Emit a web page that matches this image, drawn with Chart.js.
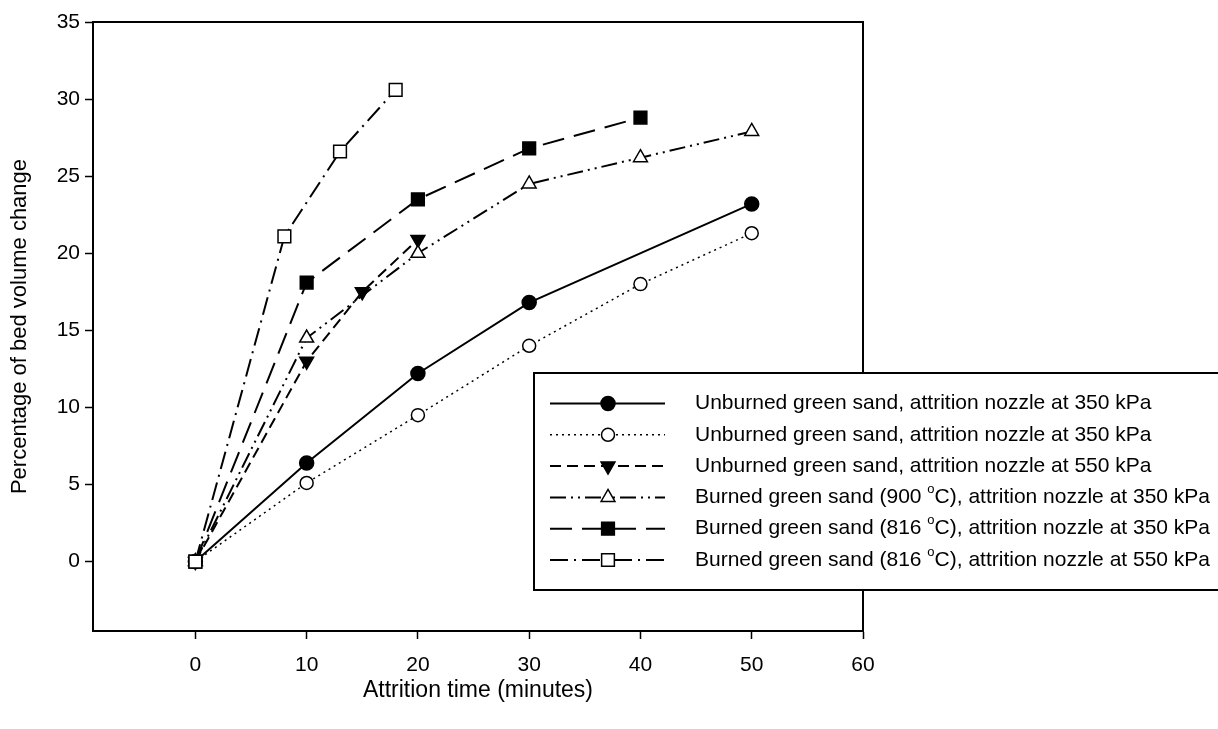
<!DOCTYPE html>
<html>
<head>
<meta charset="utf-8">
<script src="https://cdn.jsdelivr.net/npm/chart.js@4.4.1/dist/chart.umd.min.js"></script>
<style>
  html, body { margin: 0; padding: 0; background: #fff; }
  #wrap { width: 1218px; height: 729px; }
</style>
</head>
<body>
<div id="wrap"><canvas id="bedChart"></canvas></div>
<script>
// values: attrition time (min) vs % bed volume change
const unburned350Time = [0, 10, 20, 30, 50];
const unburned350Pct = [0, 6.4, 12.2, 16.8, 23.2];
const unburned350bTime = [0, 10, 20, 30, 40, 50];
const unburned350bPct = [0, 5.1, 9.5, 14.0, 18.0, 21.3];
const unburned550Time = [0, 10, 15, 20];
const unburned550Pct = [0, 13.0, 17.5, 20.9];
const burned900Time = [0, 10, 20, 30, 40, 50];
const burned900Pct = [0, 14.5, 20.0, 24.5, 26.2, 27.9];
const burned816Time = [0, 10, 20, 30, 40];
const burned816Pct = [0, 18.1, 23.5, 26.8, 28.8];
const burned816hiTime = [0, 8, 13, 18];
const burned816hiPct = [0, 21.1, 26.6, 30.6];

const xTicks = [0, 10, 20, 30, 40, 50, 60];
const yTicks = [0, 5, 10, 15, 20, 25, 30, 35];

const seriesLabels = [
  "Unburned green sand, attrition nozzle at 350 kPa",
  "Unburned green sand, attrition nozzle at 350 kPa",
  "Unburned green sand, attrition nozzle at 550 kPa",
  "Burned green sand (900 °C), attrition nozzle at 350 kPa",
  "Burned green sand (816 °C), attrition nozzle at 350 kPa",
  "Burned green sand (816 °C), attrition nozzle at 550 kPa"
];

const FONT = "'Liberation Sans', Arial, sans-serif";

// line + marker look of each series
const looks = [
  { dash: [], width: 2, shape: "circle", r: 7, fill: "#000" },
  { dash: [2, 4], width: 1.5, shape: "circle", r: 6.5, fill: "#fff" },
  { dash: [11, 6], width: 2, shape: "triangle", rot: 180, r: 8, fill: "#000" },
  { dash: [16, 5, 2, 5, 2, 5], width: 2, shape: "triangle", r: 8, fill: "#fff" },
  { dash: [22, 10], width: 2, shape: "rect", r: 9, fill: "#000" },
  { dash: [18, 6, 2, 6], width: 2, shape: "rect", r: 9, fill: "#fff" }
];

const times = [unburned350Time, unburned350bTime, unburned550Time, burned900Time, burned816Time, burned816hiTime];
const pcts = [unburned350Pct, unburned350bPct, unburned550Pct, burned900Pct, burned816Pct, burned816hiPct];

const datasets = times.map((t, i) => ({
  label: seriesLabels[i],
  data: t.map((x, j) => ({ x: x, y: pcts[i][j] })),
  borderColor: "#000",
  borderWidth: looks[i].width,
  borderDash: looks[i].dash,
  pointStyle: looks[i].shape,
  rotation: looks[i].rot || 0,
  pointRadius: looks[i].r,
  pointBackgroundColor: looks[i].fill,
  pointBorderColor: "#000",
  pointBorderWidth: 1.5,
  tension: 0,
  fill: false,
  order: 6 - i
}));

function drawMarker(ctx, look, x, y) {
  ctx.save();
  ctx.setLineDash([]);
  ctx.lineWidth = 1.5;
  ctx.strokeStyle = "#000";
  ctx.fillStyle = look.fill;
  ctx.beginPath();
  const r = look.r;
  if (look.shape === "circle") {
    ctx.arc(x, y, r, 0, Math.PI * 2);
  } else if (look.shape === "rect") {
    const s = r * Math.SQRT1_2;
    ctx.rect(x - s, y - s, 2 * s, 2 * s);
  } else {
    const dir = look.rot ? -1 : 1;
    ctx.moveTo(x, y - dir * r);
    ctx.lineTo(x + r * 0.866, y + dir * r / 2);
    ctx.lineTo(x - r * 0.866, y + dir * r / 2);
    ctx.closePath();
  }
  ctx.fill();
  ctx.stroke();
  ctx.restore();
}

const frameAndKey = {
  id: "frameAndKey",
  afterDraw(chart) {
    const { ctx, chartArea: a } = chart;
    ctx.save();
    ctx.strokeStyle = "#000";
    ctx.lineWidth = 2;
    ctx.strokeRect(a.left, a.top, a.right - a.left, a.bottom - a.top);

    // key box (runs off the right edge like the original)
    const bx = 534, by = 373, bh = 217;
    ctx.fillStyle = "#fff";
    ctx.fillRect(bx, by, chart.width - bx + 10, bh);
    ctx.strokeRect(bx, by, chart.width - bx + 10, bh);

    const rowTop = 403.5, rowH = 31.3;
    seriesLabels.forEach((txt, i) => {
      const y = rowTop + i * rowH;
      const lk = looks[i];
      ctx.save();
      ctx.lineWidth = lk.width;
      ctx.setLineDash(lk.dash);
      ctx.beginPath();
      ctx.moveTo(550, y);
      ctx.lineTo(665, y);
      ctx.stroke();
      ctx.restore();
      drawMarker(ctx, lk, 608, y);

      ctx.fillStyle = "#000";
      ctx.textBaseline = "middle";
      ctx.textAlign = "left";
      const parts = txt.split("°");
      let x = 695;
      ctx.font = "21px " + FONT;
      ctx.fillText(parts[0], x, y);
      if (parts.length > 1) {
        x += ctx.measureText(parts[0]).width;
        ctx.font = "13px " + FONT;
        ctx.fillText("o", x, y - 8);
        x += ctx.measureText("o").width;
        ctx.font = "21px " + FONT;
        ctx.fillText(parts[1], x, y);
      }
    });
    ctx.restore();
  }
};

new Chart(document.getElementById("bedChart"), {
  type: "line",
  data: { datasets: datasets },
  plugins: [frameAndKey],
  options: {
    responsive: true,
    maintainAspectRatio: false,
    animation: false,
    events: [],
    layout: { padding: { top: 22, right: 355, left: 0, bottom: 0 } },
    plugins: { legend: { display: false }, tooltip: { enabled: false } },
    scales: {
      x: {
        type: "linear",
        min: -9.2,
        max: 60,
        afterBuildTicks: (axis) => { axis.ticks = xTicks.map((v) => ({ value: v })); },
        afterFit: (axis) => { axis.height = 98; },
        grid: { drawOnChartArea: false, drawTicks: true, tickLength: 8, tickColor: "#000", tickWidth: 1.5 },
        border: { display: true, color: "#000", width: 2 },
        ticks: { color: "#000", padding: 14, font: { family: FONT, size: 21 } },
        title: {
          display: true,
          text: "Attrition time (minutes)",
          color: "#000",
          font: { family: FONT, size: 23 },
          padding: { top: 0, bottom: 25 }
        }
      },
      y: {
        type: "linear",
        min: -4.5,
        max: 35,
        afterBuildTicks: (axis) => { axis.ticks = yTicks.map((v) => ({ value: v })); },
        afterFit: (axis) => { axis.width = 93; },
        grid: { drawOnChartArea: false, drawTicks: true, tickLength: 8, tickColor: "#000", tickWidth: 1.5 },
        border: { display: true, color: "#000", width: 2 },
        ticks: { color: "#000", padding: 5, font: { family: FONT, size: 21 } },
        title: {
          display: true,
          text: "Percentage of bed volume change",
          color: "#000",
          font: { family: FONT, size: 22 },
          padding: { top: 7, bottom: 0 }
        }
      }
    }
  }
});
</script>
</body>
</html>
